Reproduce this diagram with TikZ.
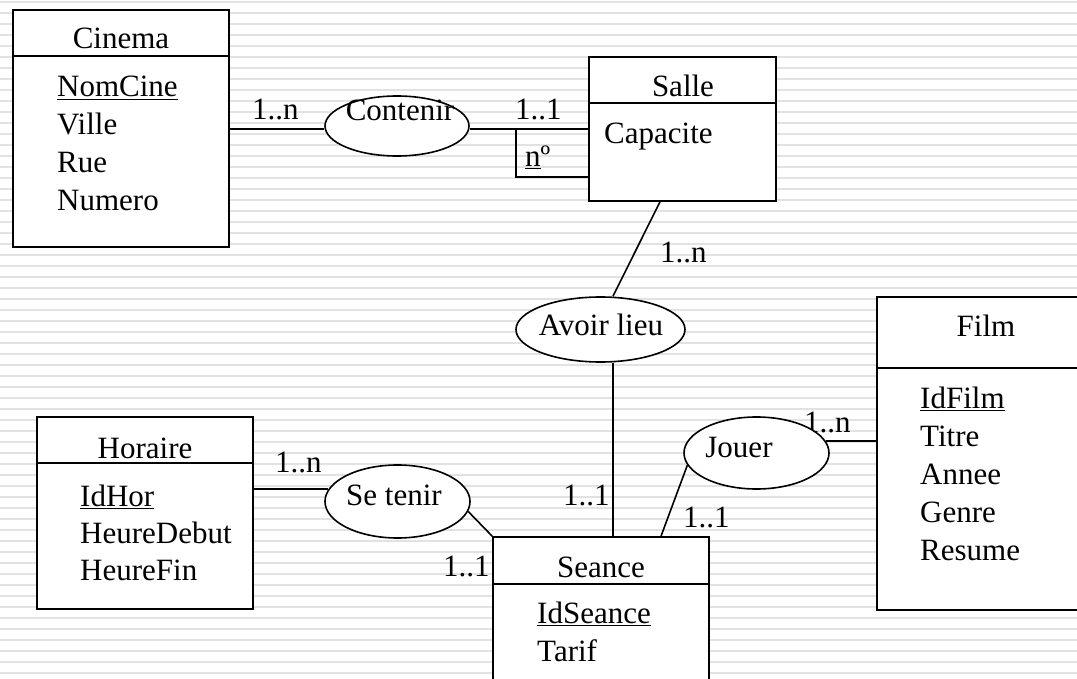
\documentclass[tikz,border=0pt]{standalone}
\usepackage{fontspec}
\setmainfont{Liberation Serif}
\usepackage{tikz}
\usetikzlibrary{shapes.geometric}
\definecolor{craya}{HTML}{E2E2E2}

\begin{document}
\begin{tikzpicture}[x=1pt,y=-1pt,
  font=\fontsize{31}{37}\selectfont,
  ent/.style={draw,fill=white,line width=1.6pt,inner sep=0pt},
  assoc/.style={ellipse,draw,fill=white,line width=1.6pt,inner sep=0pt},
  titre/.style={anchor=base,inner sep=0pt},
  attr/.style={anchor=base west,inner sep=0pt},
  card/.style={anchor=base west,inner sep=0pt},
  lien/.style={line width=1.6pt}]
  \clip (0,0) rectangle (1077,679);
  % fond raye
  \foreach \k in {0,...,61}
    \draw[craya,line width=2.4pt] (0,{2+11*\k}) -- (1077,{2+11*\k});

  % cardinalites
  \node[card] (c1) at (252,120) {1..n};
  \node[card] (c2) at (515,120) {1..1};
  \node[card] (c3) at (660,263) {1..n};
  \node[card] (c4) at (563,505) {1..1};
  \node[card] (c5) at (275,472) {1..n};
  \node[card] (c6) at (443,576) {1..1};
  \node[card] (c7) at (683,527) {1..1};
  \node[card] (c8) at (804,432) {1..n};

  % entites
  \node[ent,minimum width=216pt,minimum height=237pt] (cinema) at (121,128.5) {};
  \draw[lien] ([yshift=-47pt]cinema.north west) -- ([yshift=-47pt]cinema.north east);
  \node[titre] (cinemaT) at (121,49) {Cinema};
  \foreach \t [count=\i] in {\underline{NomCine},Ville,Rue,Numero}
    \node[attr] (cinema\i) at (57,{97+37.7*(\i-1)}) {\t};

  \node[ent,minimum width=187pt,minimum height=144pt] (salle) at (682.5,129) {};
  \draw[lien] ([yshift=-47pt]salle.north west) -- ([yshift=-47pt]salle.north east);
  \node[titre] (salleT) at (683,97) {Salle};
  \node[attr] (salle1) at (604,144) {Capacite};

  \node[ent,minimum width=216pt,minimum height=192pt] (horaire) at (145,513) {};
  \draw[lien] ([yshift=-47pt]horaire.north west) -- ([yshift=-47pt]horaire.north east);
  \node[titre] (horaireT) at (145,458) {Horaire};
  \foreach \t [count=\i] in {\underline{IdHor},HeureDebut,HeureFin}
    \node[attr] (horaire\i) at (80,{506+37*(\i-1)}) {\t};

  \node[ent,minimum width=216pt,minimum height=163pt] (seance) at (601,618.5) {};
  \draw[lien] ([yshift=-48pt]seance.north west) -- ([yshift=-48pt]seance.north east);
  \node[titre] (seanceT) at (601,577) {Seance};
  \foreach \t [count=\i] in {\underline{IdSeance},Tarif}
    \node[attr] (seance\i) at (537,{623+38*(\i-1)}) {\t};

  \node[ent,minimum width=208pt,minimum height=313pt] (film) at (981,453.5) {};
  \draw[lien] ([yshift=-72pt]film.north west) -- ([yshift=-72pt]film.north east);
  \node[titre] (filmT) at (986,337) {Film};
  \foreach \t [count=\i] in {\underline{IdFilm},Titre,Annee,Genre,Resume}
    \node[attr] (film\i) at (920,{408+38*(\i-1)}) {\t};

  % associations
  \node[assoc,minimum width=144pt,minimum height=60pt] (contenir) at (397,126) {};
  \node[titre] (contenirT) at (400,121) {Contenir};
  \node[assoc,minimum width=169pt,minimum height=65pt] (avoir) at (600.5,329.5) {};
  \node[titre] (avoirT) at (601,335) {Avoir lieu};
  \node[assoc,minimum width=145pt,minimum height=73pt] (setenir) at (397.5,501.5) {};
  \node[titre] (setenirT) at (394,505) {Se tenir};
  \node[assoc,minimum width=145pt,minimum height=72pt] (jouer) at (756.5,453) {};
  \node[titre] (jouerT) at (739,457) {Jouer};

  % liens
  \draw[lien] ([yshift=-3pt]contenir.west) -- ([yshift=-3pt]contenir.west -| cinema.east);
  \draw[lien] ([yshift=-3pt]contenir.east) -- ([yshift=-3pt]contenir.east -| salle.west);
  \draw[lien] (516,129) -- (516,177) -- (salle.west |- 0,177);
  \node[attr] (numero) at (525,167) {\underline{n}º};
  \draw[lien] ([xshift=-22.5pt]salle.south) -- ([xshift=12.5pt]avoir.north);
  \draw[lien] ([xshift=12.5pt]avoir.south) -- ([xshift=12.5pt]avoir.south |- seance.north);
  \draw[lien] (setenir.170) -- (setenir.170 -| horaire.east);
  \draw[lien] (setenir.-8) -- (seance.north west);
  \draw[lien] (jouer.190) -- ([xshift=60pt]seance.north);
  \draw[lien] (jouer.10) -- (jouer.10 -| film.west);
\end{tikzpicture}
\end{document}
